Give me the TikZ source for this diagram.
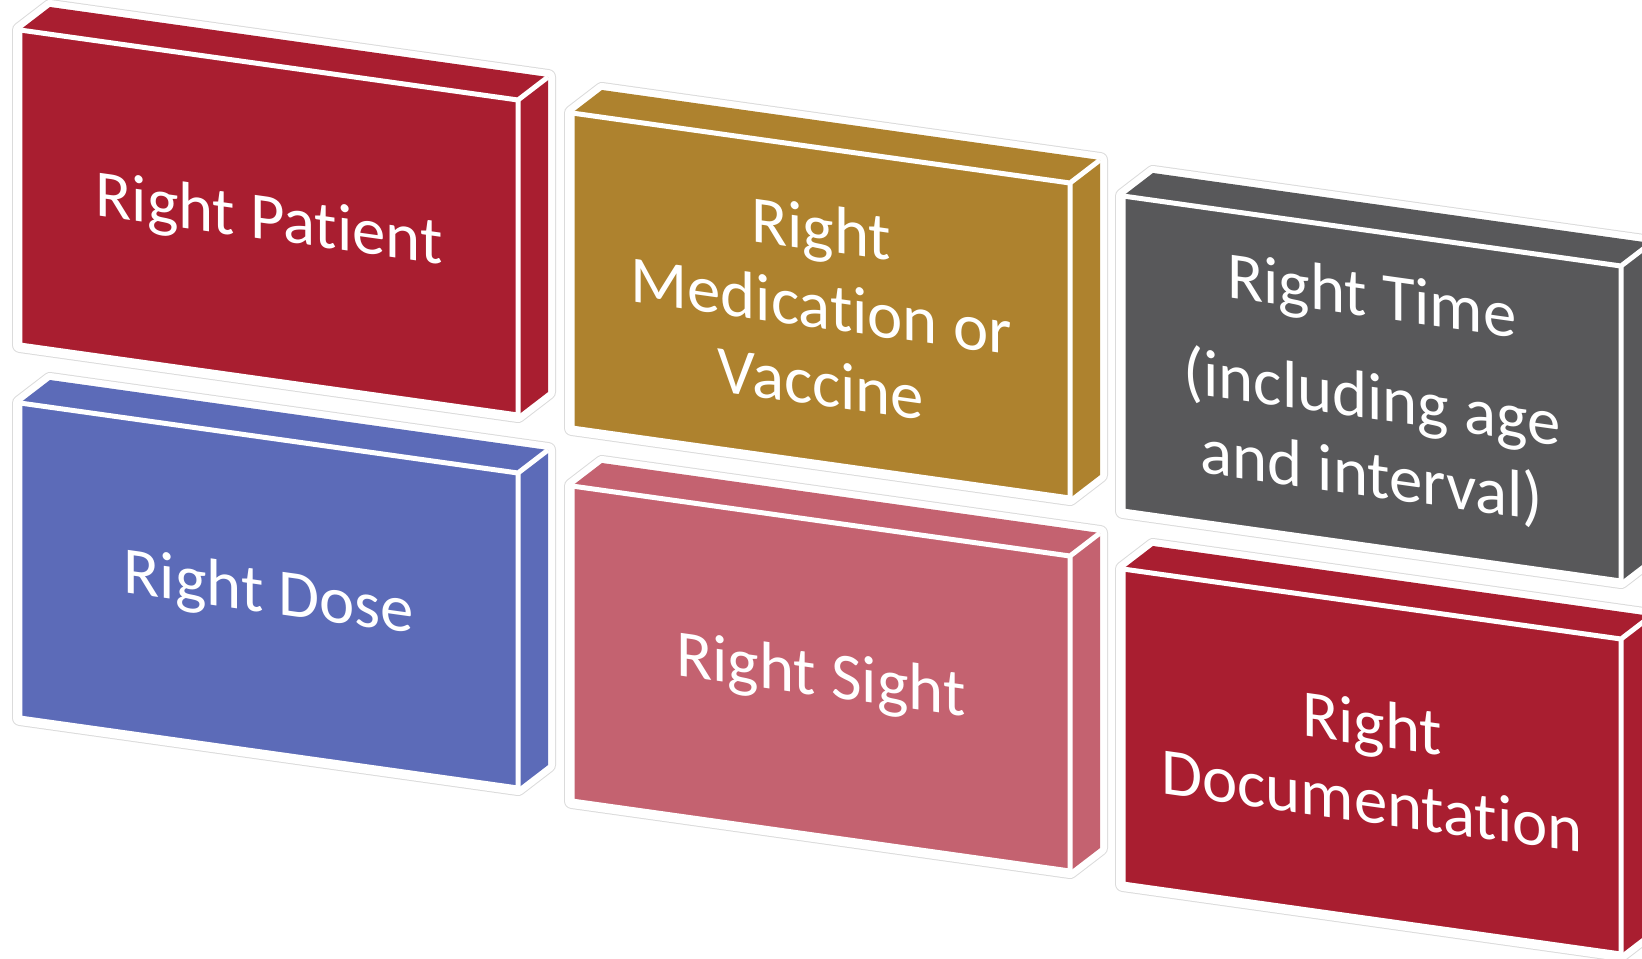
\documentclass[tikz,border=0pt]{standalone}
\usepackage{fontspec}
\setmainfont{Carlito}[Ligatures={NoCommon,NoContextual}]
\definecolor{rightred}{HTML}{A91E30}
\definecolor{rightgold}{HTML}{AE822E}
\definecolor{rightgrey}{HTML}{58585A}
\definecolor{rightblue}{HTML}{5C6BB8}
\definecolor{rightpink}{HTML}{C46270}

\begin{document}
\begin{tikzpicture}[x=0.02cm, y=-0.02cm,
  boxhalo/.style={draw=black!14, line width=0.32cm, line join=round},
  boxglow/.style={draw=white, line width=0.28cm, line join=round},
  boxedge/.style={draw=white, line width=0.1cm},
  boxtext/.style={text=white, align=center, transform shape, font=\fontsize{38}{44}\selectfont}]
\clip (0,0) rectangle (1642,958);
\foreach \n/\px/\py/\col/\txt in {pat/20/30/rightred/{Right Patient},
    med/572/113/rightgold/{Right\\Medication or\\Vaccine},
    tim/1123/196/rightgrey/{Right Time\\[14pt](including age\\and interval)},
    dos/20/403/rightblue/{Right Dose},
    sig/572/486/rightpink/{Right Sight},
    doc/1123/569/rightred/{Right\\Documentation}} {
  \coordinate (\n-a) at (\px,\py);
  \coordinate (\n-b) at (\px+498,\py+70);
  \coordinate (\n-c) at (\px+498,\py+385);
  \coordinate (\n-d) at (\px,\py+315);
  \coordinate (\n-e) at (\px+30,\py-23);
  \coordinate (\n-f) at (\px+528,\py+47);
  \coordinate (\n-g) at (\px+528,\py+362);
  \coordinate (\n-m) at (\px+249,\py+192.5);
  \draw[boxhalo] (\n-d) -- (\n-a) -- (\n-e) -- (\n-f) -- (\n-g) -- (\n-c) -- cycle;
  \draw[boxglow] (\n-d) -- (\n-a) -- (\n-e) -- (\n-f) -- (\n-g) -- (\n-c) -- cycle;
  \fill[\col] (\n-d) -- (\n-a) -- (\n-e) -- (\n-f) -- (\n-g) -- (\n-c) -- cycle;
  \draw[boxedge] (\n-a) -- (\n-b) -- (\n-c) -- (\n-d) -- cycle (\n-b) -- (\n-f);
  \node[boxtext, cm={1,-0.1406,0,1,(\n-m)}] (\n) at (0,0) {\txt};
}
\end{tikzpicture}
\end{document}
